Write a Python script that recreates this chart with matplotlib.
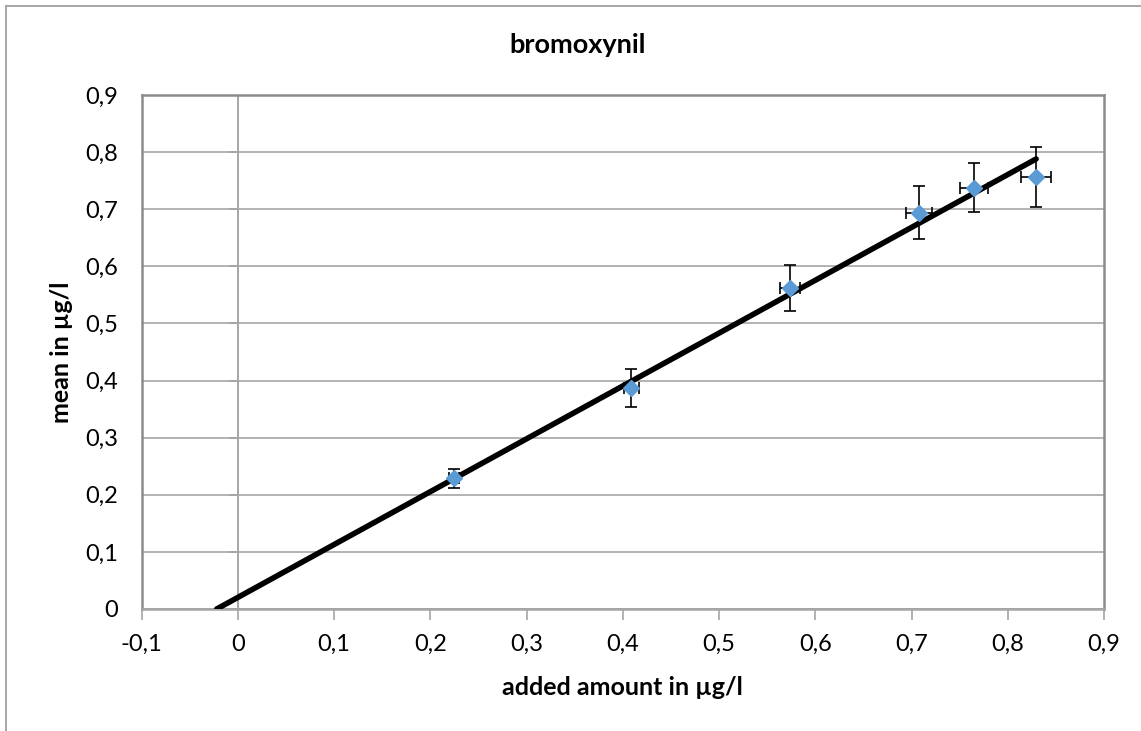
"""Recovery plot for bromoxynil: measured mean vs. added amount, with x/y error bars and a linear trendline."""

import matplotlib
matplotlib.use("Agg")
import matplotlib.pyplot as plt
import numpy as np

added = [0.2246, 0.4085, 0.5737, 0.7078, 0.7652, 0.8290]
mean = [0.2289, 0.3870, 0.5616, 0.6940, 0.7378, 0.7570]
x_err = [0.0052, 0.0078, 0.0104, 0.0135, 0.0145, 0.0156]
y_err = [0.0170, 0.0330, 0.0400, 0.0460, 0.0430, 0.0525]

# trendline as drawn by the spreadsheet (slope, intercept, x range)
trend_slope = 0.9255
trend_icpt = 0.0204
trend_range = [-0.022, 0.8294]

x_ticks = [-0.1, 0, 0.1, 0.2, 0.3, 0.4, 0.5, 0.6, 0.7, 0.8, 0.9]
y_ticks = [0, 0.1, 0.2, 0.3, 0.4, 0.5, 0.6, 0.7, 0.8, 0.9]

_FONT = "Lato"
_GRID = "#a6a6a6"
_BORDER = "#8c8c8c"
_BLUE = "#5b9bd5"


def fmt(v):
    # decimal comma, like the source spreadsheet
    return ("%g" % round(v, 2)).replace(".", ",")


plt.rcParams["font.family"] = [_FONT, "DejaVu Sans"]

fig = plt.figure(figsize=(11.41, 7.31), dpi=100)
ax = fig.add_axes([0.1242, 0.1669, 0.8434, 0.7031])

ax.set_xlim(x_ticks[0], x_ticks[-1])
ax.set_ylim(y_ticks[0], y_ticks[-1])
ax.set_xticks(x_ticks)
ax.set_yticks(y_ticks)
ax.set_xticklabels([fmt(v) for v in x_ticks], fontsize=17)
ax.set_yticklabels([fmt(v) for v in y_ticks], fontsize=17)

# horizontal gridlines only; the vertical line at x=0 is the value axis
ax.yaxis.grid(True, color=_GRID, linewidth=1.2)
ax.set_axisbelow(True)
ax.axvline(0, color=_GRID, linewidth=1.4, zorder=1)
ax.axhline(0, color=_GRID, linewidth=1.8, zorder=1)

for side in ["left", "right", "top"]:
    ax.spines[side].set_color(_BORDER)
    ax.spines[side].set_linewidth(1.8)
ax.spines["bottom"].set_color(_GRID)
ax.spines["bottom"].set_linewidth(1.8)

ax.tick_params(axis="x", direction="out", length=8, color=_GRID, width=1.2, pad=10)
ax.tick_params(axis="y", length=0, pad=17)

# value axis tick marks sit on the x=0 line, labels stay at the left edge
for yt in y_ticks:
    ax.plot([-0.009, 0], [yt, yt], color=_GRID, linewidth=1.4, zorder=1,
            solid_capstyle="butt")

# trendline
tx = np.array(trend_range)
ax.plot(tx, trend_slope * tx + trend_icpt, color="black", linewidth=4.0,
        solid_capstyle="round", zorder=3)

ax.errorbar(added, mean, xerr=x_err, yerr=y_err, fmt="none", ecolor="black",
            elinewidth=1.2, capsize=4.5, capthick=1.2, zorder=4)
ax.plot(added, mean, linestyle="none", marker="D", markersize=8.5,
        color=_BLUE, markeredgecolor=_BLUE, zorder=5)

fig.text(0.5066, 0.938, "bromoxynil", ha="center", va="center",
         fontsize=19.5, fontweight="bold")
ax.set_xlabel("added amount in µg/l", fontsize=18, fontweight="bold", labelpad=15)
ax.set_ylabel("mean in µg/l", fontsize=18, fontweight="bold", labelpad=9)

# outer chart frame (cropped at right and bottom in the source)
fig.add_artist(plt.Line2D([5.7 / 1141, 1], [1 - 5.7 / 731] * 2,
                          transform=fig.transFigure, color="#a6a6a6", linewidth=1.4))
fig.add_artist(plt.Line2D([5.7 / 1141] * 2, [0, 1 - 5.7 / 731],
                          transform=fig.transFigure, color="#a6a6a6", linewidth=1.4))

fig.savefig("out.png", dpi=100)
